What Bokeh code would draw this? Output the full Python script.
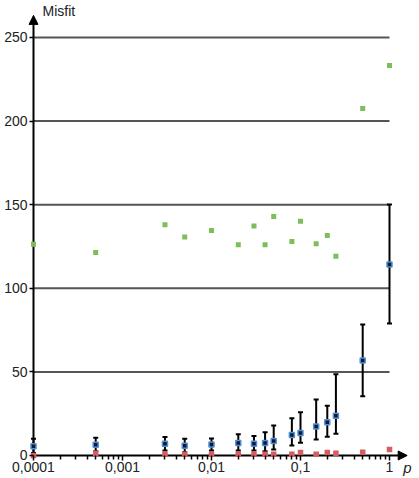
from bokeh.plotting import figure
from bokeh.models import (ColumnDataSource, Range1d, FixedTicker, Whisker, TeeHead,
                          Arrow, NormalHead, Label)
from bokeh.embed import file_html
from bokeh.resources import INLINE

# ---- data ----
p_values = [0.0001, 0.0005, 0.003, 0.005, 0.01, 0.02, 0.03, 0.04, 0.05,
            0.08, 0.1, 0.15, 0.2, 0.25, 0.5, 1.0]
green_misfit = [126.4, 121.4, 138.0, 130.6, 134.6, 126.0, 137.2, 126.0, 142.9,
                128.0, 140.1, 126.6, 131.6, 119.2, 207.5, 233.3]
red_misfit = [0.0, 1.4, 0.8, 0.8, 0.8, 0.8, 0.8, 0.8, 0.8,
              0.8, 1.8, 0.8, 1.8, 1.4, 2.0, 3.6]
blue_misfit = [5.6, 6.4, 7.0, 5.8, 6.6, 7.4, 7.0, 7.4, 8.6,
               12.3, 13.4, 17.3, 19.9, 23.7, 56.8, 114.2]
blue_upper = [10.0, 10.6, 11.0, 10.0, 10.2, 12.7, 11.6, 13.9, 17.9,
              22.2, 25.9, 33.5, 29.7, 48.6, 78.3, 150.1]
blue_lower = [1.5, 2.6, 3.0, 2.0, 3.0, 3.0, 3.0, 2.5, 3.6,
              6.0, 7.6, 9.6, 11.2, 13.0, 35.5, 79.0]

x_ticks = [0.0001, 0.001, 0.01, 0.1, 1]
x_tick_labels = ["0,0001", "0,001", "0,01", "0,1", "1"]
x_minor_ticks = [m * d for d in [0.0001, 0.001, 0.01, 0.1] for m in range(2, 10)]
y_ticks = [0, 50, 100, 150, 200, 250]
grid_values = [50, 100, 150, 200, 250]

x_axis_end = 1.58
y_axis_end = 263.2

FONT = "Liberation Sans"

p = figure(x_axis_type="log",
           x_range=Range1d(10 ** -4.3708, 10 ** 0.3371),
           y_range=Range1d(-13.76, 272.1),
           width=419, height=478, output_backend="svg", toolbar_location=None,
           min_border_left=0, min_border_right=0, min_border_top=0,
           min_border_bottom=0)
p.outline_line_color = None
p.xgrid.visible = False
p.ygrid.visible = False
p.background_fill_color = "white"
p.border_fill_color = "white"

# gridlines (from axis to p = 1)
p.segment(x0=[x_ticks[0]] * len(grid_values), x1=[x_ticks[-1]] * len(grid_values),
          y0=grid_values, y1=grid_values, line_color="#555555", line_width=2,
          level="underlay")

# axes drawn as arrows
p.add_layout(Arrow(end=NormalHead(size=9, fill_color="black", line_color="black"),
                   x_start=x_ticks[0], y_start=0, x_end=x_axis_end, y_end=0,
                   line_color="black", line_width=2, level="underlay"))
p.add_layout(Arrow(end=NormalHead(size=9, fill_color="black", line_color="black"),
                   x_start=x_ticks[0], y_start=0, x_end=x_ticks[0], y_end=y_axis_end,
                   line_color="black", line_width=2, level="underlay"))

# x axis styling (axis placed on y = 0)
xa = p.xaxis[0]
xa.fixed_location = 0
xa.ticker = FixedTicker(ticks=x_ticks, minor_ticks=x_minor_ticks)
xa.major_label_overrides = {t: l for t, l in zip(x_ticks, x_tick_labels)}
xa.axis_line_color = None
xa.major_tick_in = 0
xa.major_tick_out = 5
xa.minor_tick_in = 0
xa.minor_tick_out = 4
xa.major_tick_line_color = "black"
xa.minor_tick_line_color = "black"
xa.major_tick_line_width = 1.5
xa.minor_tick_line_width = 1.5
xa.major_label_standoff = 2
xa.major_label_text_font = FONT
xa.major_label_text_font_size = "14px"
xa.major_label_text_color = "#222222"

# y axis styling (axis placed on p = 0.0001)
ya = p.yaxis[0]
ya.fixed_location = x_ticks[0]
ya.ticker = FixedTicker(ticks=y_ticks, minor_ticks=[])
ya.axis_line_color = None
ya.major_tick_in = 0
ya.major_tick_out = 4
ya.major_tick_line_color = "black"
ya.major_tick_line_width = 1.5
ya.major_label_standoff = 2
ya.major_label_text_font = FONT
ya.major_label_text_font_size = "14px"
ya.major_label_text_color = "#222222"

src = ColumnDataSource(dict(x=p_values, g=green_misfit, r=red_misfit, b=blue_misfit,
                            up=blue_upper, lo=blue_lower))

p.add_layout(Whisker(source=src, base="x", upper="up", lower="lo", dimension="height",
                     line_color="black", line_width=2,
                     upper_head=TeeHead(size=5, line_color="black", line_width=2),
                     lower_head=TeeHead(size=5, line_color="black", line_width=2)))

p.scatter("x", "g", source=src, marker="square", size=5,
          fill_color="#7cbf5a", line_color=None)
p.scatter("x", "r", source=src, marker="square", size=5.5,
          fill_color="#d45c62", line_color=None)
p.scatter("x", "b", source=src, marker="square", size=5,
          fill_color="#0e1a33", line_color="#4f90d4", line_width=1.5)

p.add_layout(Label(x=x_ticks[0], y=265.6, x_offset=9, text="Misfit",
                   text_font=FONT, text_font_size="14px", text_color="#222222",
                   text_baseline="middle", text_align="left"))
p.add_layout(Label(x=x_ticks[-1], y=0, x_offset=18, y_offset=-12, text="p",
                   text_font=FONT, text_font_size="15px", text_font_style="italic",
                   text_color="#222222", text_baseline="middle", text_align="center"))

open("out.html", "w").write(file_html(p, INLINE))
